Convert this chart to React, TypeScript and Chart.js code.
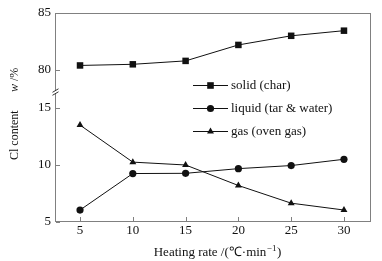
import React, { useEffect, useRef } from 'react';
import { Chart, registerables } from 'chart.js';
Chart.register(...registerables);

const heatingRates = [5, 10, 15, 20, 25, 30];
const solidChar = [80.4, 80.5, 80.8, 82.2, 83.0, 83.45];
const liquidTarWater = [6.05, 9.25, 9.27, 9.68, 9.95, 10.5];
const gasOvenGas = [13.5, 10.25, 10.0, 8.2, 6.65, 6.05];
const seriesLabels = ['solid (char)', 'liquid (tar & water)', 'gas (oven gas)'];
const seriesMarkers = ['rect', 'circle', 'triangle'];
const yTickValues = [5, 10, 15, 80, 85];
const xTickValues = [5, 10, 15, 20, 25, 30];
const xTitle = 'Heating rate /(\u2103\u00b7min';
const yTitleMain = 'Cl content';
const yTitleUnit = ' /%';

const BREAK_LOW = 15;
const BREAK_HIGH = 80;
const GAP = 3.33;
const toAxis = (v: number) => (v >= BREAK_HIGH ? v - BREAK_HIGH + BREAK_LOW + GAP : v);
const fromAxis = (a: number) => (a > BREAK_LOW + GAP / 2 ? a - BREAK_LOW - GAP + BREAK_HIGH : a);

const FONT = '"Liberation Serif", "Times New Roman", serif';
const INK = '#111';
const FRAME = '#808080';

function drawMarker(ctx: CanvasRenderingContext2D, kind: string, x: number, y: number) {
  ctx.beginPath();
  if (kind === 'rect') {
    ctx.rect(x - 3.3, y - 3.3, 6.6, 6.6);
  } else if (kind === 'circle') {
    ctx.arc(x, y, 3.6, 0, Math.PI * 2);
  } else {
    const r = 4;
    ctx.moveTo(x, y - r);
    ctx.lineTo(x + r * Math.sin((2 * Math.PI) / 3), y - r * Math.cos((2 * Math.PI) / 3));
    ctx.lineTo(x + r * Math.sin((4 * Math.PI) / 3), y - r * Math.cos((4 * Math.PI) / 3));
    ctx.closePath();
  }
  ctx.fill();
}

const decorPlugin = {
  id: 'decor',
  beforeDatasetsDraw(chart: any) {
    const { ctx, chartArea: a } = chart;
    ctx.save();
    ctx.strokeStyle = FRAME;
    ctx.lineWidth = 1;
    ctx.strokeRect(Math.round(a.left) + 0.5, Math.round(a.top) + 0.5, Math.round(a.right - a.left) - 1, Math.round(a.bottom - a.top) - 1);
    const xs = chart.scales.x;
    const ys = chart.scales.y;
    ctx.beginPath();
    xTickValues.forEach((v) => {
      const px = Math.round(xs.getPixelForValue(v)) + 0.5;
      ctx.moveTo(px, a.bottom - 1);
      ctx.lineTo(px, a.bottom - 5);
    });
    yTickValues.forEach((v) => {
      const py = Math.round(ys.getPixelForValue(toAxis(v))) + 0.5;
      ctx.moveTo(a.left + 1, py);
      ctx.lineTo(a.left + 5, py);
    });
    ctx.stroke();
    // axis break mark
    const by = ys.getPixelForValue(BREAK_LOW + GAP * 0.4);
    const bx = Math.round(a.left) + 0.5;
    ctx.fillStyle = '#fff';
    ctx.fillRect(bx - 2, by - 2, 4, 3);
    ctx.strokeStyle = '#333';
    ctx.beginPath();
    ctx.moveTo(bx - 3, by - 0.5);
    ctx.lineTo(bx + 3, by - 4);
    ctx.moveTo(bx - 3, by + 2.5);
    ctx.lineTo(bx + 3, by - 1);
    ctx.stroke();
    ctx.restore();
  },
  afterDraw(chart: any) {
    const { ctx } = chart;
    ctx.save();
    // legend
    chart.data.datasets.forEach((ds: any, i: number) => {
      const y = 85 + 23 * i;
      ctx.strokeStyle = INK;
      ctx.fillStyle = INK;
      ctx.lineWidth = 1;
      ctx.beginPath();
      ctx.moveTo(193, y + 0.5);
      ctx.lineTo(228, y + 0.5);
      ctx.stroke();
      drawMarker(ctx, seriesMarkers[i], 210.5, y + 0.5);
      ctx.font = `13px ${FONT}`;
      ctx.textBaseline = 'middle';
      ctx.textAlign = 'left';
      ctx.fillText(ds.label, 231, y + 1);
    });
    // x title
    ctx.fillStyle = INK;
    ctx.font = `13px ${FONT}`;
    ctx.textBaseline = 'alphabetic';
    const w1 = ctx.measureText(xTitle).width;
    ctx.font = `9px ${FONT}`;
    const w2 = ctx.measureText('\u22121').width;
    ctx.font = `13px ${FONT}`;
    const w3 = ctx.measureText(')').width;
    const total = w1 + w2 + w3;
    const x0 = 217 - total / 2;
    const baseY = 256;
    ctx.fillText(xTitle, x0, baseY);
    ctx.font = `9px ${FONT}`;
    ctx.fillText('\u22121', x0 + w1 + 0.5, baseY - 5);
    ctx.font = `13px ${FONT}`;
    ctx.fillText(')', x0 + w1 + w2 + 1, baseY);
    // y title
    ctx.translate(15, 160);
    ctx.rotate(-Math.PI / 2);
    ctx.textBaseline = 'middle';
    ctx.font = `12px ${FONT}`;
    ctx.fillText(yTitleMain, 0, 0);
    ctx.font = `italic 12px ${FONT}`;
    ctx.fillText('w', 68, 0);
    const ww = ctx.measureText('w').width;
    ctx.font = `12px ${FONT}`;
    ctx.fillText(yTitleUnit, 68 + ww, 0);
    ctx.restore();
  },
};

export default function App() {
  const ref = useRef<HTMLCanvasElement | null>(null);
  useEffect(() => {
    if (!ref.current) return;
    const series = [solidChar, liquidTarWater, gasOvenGas];
    const chart = new Chart(ref.current, {
      type: 'line',
      data: {
        datasets: series.map((vals, i) => ({
          label: seriesLabels[i],
          data: vals.map((v, j) => ({ x: heatingRates[j], y: toAxis(v) })),
          borderColor: INK,
          backgroundColor: INK,
          borderWidth: 1,
          pointStyle: seriesMarkers[i] as any,
          pointRadius: i === 0 ? 4.6 : i === 1 ? 3.6 : 4,
          pointBackgroundColor: INK,
          pointBorderColor: INK,
          pointBorderWidth: 0,
          tension: 0,
        })),
      },
      options: {
        animation: false,
        responsive: false,
        layout: { padding: { top: 13, right: 11, left: 0, bottom: 0 } },
        plugins: { legend: { display: false }, tooltip: { enabled: false } },
        scales: {
          x: {
            type: 'linear',
            min: 2.63,
            max: 32.56,
            grid: { display: false, drawTicks: false },
            border: { display: false },
            afterBuildTicks: (s: any) => {
              s.ticks = xTickValues.map((v) => ({ value: v }));
            },
            afterFit: (s: any) => {
              s.height = 39;
            },
            ticks: {
              color: INK,
              font: { family: FONT, size: 13 },
              padding: 1,
              maxRotation: 0,
              autoSkip: false,
              callback: (v: any) => String(v),
            },
          },
          y: {
            type: 'linear',
            min: 5,
            max: toAxis(85),
            grid: { display: false, drawTicks: false },
            border: { display: false },
            afterBuildTicks: (s: any) => {
              s.ticks = yTickValues.map((v) => ({ value: toAxis(v) }));
            },
            afterFit: (s: any) => {
              s.width = 55;
            },
            ticks: {
              color: INK,
              font: { family: FONT, size: 13 },
              padding: 4,
              autoSkip: false,
              callback: (v: any) => String(Math.round(fromAxis(Number(v)))),
            },
          },
        },
      },
      plugins: [decorPlugin],
    } as any);
    return () => chart.destroy();
  }, []);
  return (
    <div style={{ position: 'absolute', left: 0, top: 0, width: 382, height: 261, background: '#fff' }}>
      <canvas ref={ref} width={382} height={261} />
    </div>
  );
}
